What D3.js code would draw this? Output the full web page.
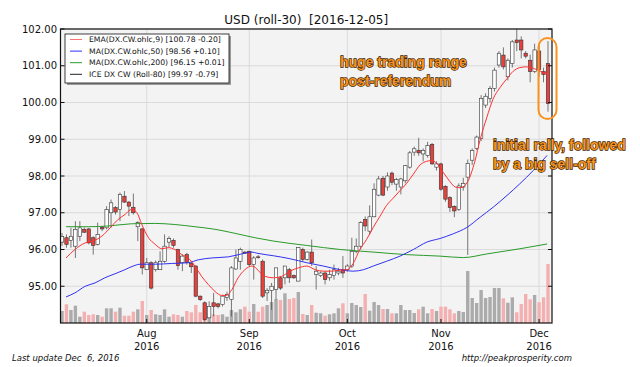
<!DOCTYPE html>
<html><head><meta charset="utf-8">
<script src="https://cdn.jsdelivr.net/npm/d3@7"></script>
<style>body{margin:0;background:#fff}svg{display:block}</style>
</head><body><svg id="c" width="640" height="367"></svg>
<script>
// ---------- DATA ----------
const openP  = [96.20,96.32,96.25,96.09,96.36,96.55,96.56,96.32,96.14,96.61,96.59,97.00,97.14,97.09,97.45,97.29,97.15,96.62,96.56,95.45,
                95.64,95.45,95.45,95.68,96.20,96.25,96.00,95.64,95.86,95.62,95.55,94.73,94.55,94.14,94.55,94.52,94.50,94.70,94.64,95.47,
                95.68,95.93,95.95,95.59,95.80,95.68,94.82,94.89,94.91,95.23,95.23,95.45,95.29,95.14,96.00,95.73,95.93,95.32,95.29,95.36,
                95.23,95.29,95.36,95.45,95.45,95.55,95.95,96.09,96.82,96.50,96.89,97.48,97.94,97.70,98.08,97.78,97.70,97.87,98.24,98.65,
                98.70,98.60,98.56,98.86,98.24,98.33,97.72,97.41,97.17,97.09,97.70,97.97,98.43,98.75,99.02,99.93,100.11,100.38,101.02,101.29,
                100.70,101.06,101.70,101.70,101.34,101.15,100.84,101.40,100.84,101.06];
const highP  = [96.45,96.41,96.59,96.77,96.77,96.60,96.59,96.36,96.73,96.64,97.18,97.36,97.18,97.55,97.59,97.32,97.52,96.77,96.59,95.77,
                95.68,95.70,95.95,96.41,96.36,96.30,96.02,95.86,95.91,95.68,95.57,94.75,94.59,94.59,94.82,94.55,94.77,94.85,95.55,96.00,
                96.05,95.95,95.97,95.82,95.85,95.73,94.95,95.09,95.50,95.27,95.55,95.50,95.32,96.05,96.05,95.95,96.27,95.55,95.40,95.41,
                95.45,95.59,95.50,95.82,95.60,96.32,96.30,96.77,96.90,97.20,97.80,98.00,98.00,98.10,98.12,97.95,97.95,98.30,98.68,98.80,
                99.04,98.75,98.93,98.90,98.40,98.36,97.75,97.45,97.20,97.80,97.95,98.45,98.75,99.10,100.20,100.25,100.45,100.95,101.40,101.50,
                101.20,101.70,102.00,101.80,101.40,101.30,101.60,101.60,100.95,101.67];
const lowP   = [96.10,96.05,96.05,95.77,96.23,96.45,96.14,95.86,96.11,96.50,96.55,96.59,96.95,96.77,97.27,96.91,96.95,96.23,95.32,95.45,
                94.91,95.40,95.45,95.64,96.05,96.05,95.45,95.41,95.59,95.36,94.70,94.60,94.05,94.14,94.18,94.40,94.45,94.60,94.18,95.45,
                95.45,95.88,95.55,95.18,95.75,94.68,94.60,94.36,94.64,94.90,95.05,95.09,95.20,95.14,95.68,95.70,95.55,94.91,95.25,95.05,
                95.15,95.18,95.30,95.23,95.40,95.50,95.90,96.00,96.50,96.40,96.88,97.45,97.45,97.60,97.75,97.60,97.50,97.80,98.20,98.55,
                98.55,98.40,98.50,98.30,98.15,97.60,97.30,97.02,96.88,97.05,97.60,95.85,98.30,98.70,98.95,99.85,100.00,100.30,100.95,100.90,
                100.60,100.95,101.40,101.20,101.20,100.55,100.80,100.70,100.55,99.75];
const closeP = [96.35,96.14,96.36,96.55,96.59,96.47,96.18,96.11,96.41,96.56,97.09,97.27,97.02,97.50,97.29,97.18,97.00,96.73,95.50,95.64,
                94.95,95.64,95.68,96.09,96.30,96.11,95.56,95.82,95.65,95.53,94.73,94.64,94.09,94.45,94.45,94.45,94.73,94.78,95.50,95.77,
                96.00,95.90,95.59,95.77,95.78,94.73,94.89,95.00,95.50,94.95,95.55,95.23,95.23,96.05,95.73,95.93,95.64,95.41,95.36,95.18,
                95.32,95.45,95.41,95.36,95.55,95.95,96.09,96.73,96.64,96.89,97.64,97.92,97.48,98.00,97.83,97.90,97.92,98.28,98.63,98.74,
                98.63,98.70,98.83,98.33,98.33,97.64,97.37,97.14,97.05,97.73,97.80,98.34,98.70,99.06,100.11,100.17,100.38,100.88,101.34,100.97,
                101.15,101.65,101.63,101.43,101.26,100.84,101.43,100.90,100.76,99.97];
const volume = [12,18.7,13,17.3,6.3,11.3,8,8.7,8,6.3,14.7,14.7,11.3,15.3,7.3,7.3,11.3,13.7,22,8,
                13,8.7,8,13.7,6.3,8.7,8,6.3,12,10.7,18,10.7,19.7,9.7,8.7,8,8.7,6.3,13,10.7,
                13.7,16.3,11.3,19,11.3,16.3,18,21,24,23,29.7,24,25,31,9,8,18,10.3,9.7,7.3,
                8.7,9.7,14.7,19.7,9.7,20,18,16,29,12.3,21,18,14,14,9.7,9.7,18,13,13,10,
                13.7,16.3,9.7,14,12,16.3,16.3,13.7,9.7,12,11,52,25,20,33,25,26,35,35,24.7,
                20.3,25.7,10.7,19,29,23.7,28,20.7,25.7,59];

// moving averages, sampled along the trading-day index
const emaIdx = [0.9,2.9,5.2,6.9,8.9,10.8,12.6,14.1,15.6,16.8,17.9,19.4,20.9,22.4,23.8,25.3,26.9,28.3,29.8,31.3,32.8,34.3,35.8,36.9,38.1,39.5,41,42.6,45.5,47.4,49.3,51.1,53,54.9,56.8,58.6,60.5,62.4,63.9,65.3,66.8,68.3,69.8,71.3,72.8,74.3,75.8,77.3,78.8,80.3,81.8,82.9,84,85.5,87,88.2,89.3,91,92.6,93.8,95.3,96.7,98.2,99.8,101.2,102.7,104.2,105.7,106.8,107.9,108.8];
const emaVal = [95.77,96.0,96.18,96.23,96.36,96.59,96.82,96.95,97.09,97.0,96.68,96.32,96.14,96.02,96.05,96.0,95.86,95.77,95.55,95.27,95.05,94.86,94.75,94.75,94.91,95.23,95.45,95.55,95.27,95.23,95.27,95.41,95.5,95.55,95.45,95.41,95.41,95.44,95.45,95.62,96.0,96.27,96.6,96.9,97.2,97.4,97.6,97.8,98.05,98.3,98.4,98.42,98.35,98.1,97.85,97.7,97.68,97.85,98.4,99.0,99.6,100.1,100.4,100.65,100.85,100.95,100.97,100.93,100.88,100.82,100.78];
const ma50Idx = [0.9,2.9,5.2,7.4,9.6,11.9,14.1,16.4,17.5,20.9,24.6,28.3,30.6,33.6,37.3,40.3,42.6,43.7,47.4,51.1,54.9,58.6,62.4,65.3,67.6,69.8,72.8,75.8,78.8,81.8,84.8,87.8,90.8,93.8,96.7,99.8,102.7,105.7,108.8];
const ma50Val = [94.71,94.82,95.0,95.09,95.23,95.34,95.45,95.57,95.6,95.6,95.62,95.64,95.72,95.77,95.8,95.88,95.93,95.9,95.83,95.75,95.64,95.55,95.45,95.41,95.45,95.55,95.68,95.82,96.0,96.2,96.3,96.43,96.6,96.88,97.15,97.47,97.79,98.15,98.56];
const ma200Idx = [0.9,5.9,10.4,15.6,20.9,25.3,29.8,34.3,38.8,43.3,47.4,54.9,62.4,69.8,77.3,84.8,90,95.3,102.7,108.8];
const ma200Val = [96.62,96.62,96.64,96.7,96.71,96.68,96.62,96.55,96.44,96.32,96.23,96.11,96.0,95.93,95.86,95.82,95.78,95.88,96.02,96.15];

const monthIdx    = [19,42,64,85,107];
const monthLabels = ["Aug","Sep","Oct","Nov","Dec"];
const yearLabels  = ["2016","2016","2016","2016","2016"];
const yTicks      = [95,96,97,98,99,100,101,102];
const legendLabels = ["EMA(DX.CW.ohlc,9) [100.78 -0.20]","MA(DX.CW.ohlc,50) [98.56 +0.10]","MA(DX.CW.ohlc,200) [96.15 +0.01]","ICE DX CW (Roll-80) [99.97 -0.79]"];
const legendColors = ["#ff7070","#3030ff","#2a9a2a","#222"];
const titleText = "USD (roll-30)  [2016-12-05]";

// ---------- DRAW ----------
const svg = d3.select("#c");
const L=60.5, R=552, T=29, B=323;
const x = d3.scaleLinear().domain([-0.34,109.9]).range([L,R]);
const y = d3.scaleLinear().domain([94,102]).range([B,T]);
const yv = d3.scaleLinear().domain([0,100]).range([B,B-100]);
const font = "DejaVu Sans, sans-serif";

svg.append("rect").attr("width",640).attr("height",367).attr("fill","#fff");
svg.append("rect").attr("x",L).attr("y",T).attr("width",R-L).attr("height",B-T).attr("fill","#f3f3f3");
svg.append("defs").append("clipPath").attr("id","pc").append("rect").attr("x",L).attr("y",T).attr("width",R-L).attr("height",B-T);

// grid
const grid = svg.append("g").attr("stroke","#d4d4d4").attr("stroke-width",0.8);
grid.selectAll(".gy").data(yTicks).join("line").attr("x1",L).attr("x2",R).attr("y1",d=>y(d)).attr("y2",d=>y(d));
grid.selectAll(".gx").data(monthIdx).join("line").attr("y1",T).attr("y2",B).attr("x1",d=>x(d)).attr("x2",d=>x(d));

const plot = svg.append("g").attr("clip-path","url(#pc)");
const idx = d3.range(openP.length);
const bw = 3.4;

// volume
plot.selectAll(".vol").data(idx).join("rect")
  .attr("x",i=>x(i)-bw/2).attr("width",bw)
  .attr("y",i=>yv(volume[i])).attr("height",i=>B-yv(volume[i]))
  .attr("fill",i=>closeP[i]<openP[i]?"#f4b0b0":"#ababab");

// candles
plot.selectAll(".wick").data(idx).join("line")
  .attr("x1",i=>x(i)).attr("x2",i=>x(i)).attr("y1",i=>y(highP[i])).attr("y2",i=>y(lowP[i]))
  .attr("stroke","#555").attr("stroke-width",0.8);
plot.selectAll(".body").data(idx).join("rect")
  .attr("x",i=>x(i)-bw/2).attr("width",bw)
  .attr("y",i=>y(Math.max(openP[i],closeP[i])))
  .attr("height",i=>Math.max(0.8,Math.abs(y(openP[i])-y(closeP[i]))))
  .attr("fill",i=>closeP[i]<openP[i]?"#e8403a":"#ffffff")
  .attr("stroke","#333").attr("stroke-width",0.6);

// lines
function drawLine(xs,vs,color){
  plot.append("path").datum(d3.zip(xs,vs))
    .attr("d",d3.line().x(d=>x(d[0])).y(d=>y(d[1])).curve(d3.curveMonotoneX))
    .attr("fill","none").attr("stroke",color).attr("stroke-width",1);
}
drawLine(ma200Idx,ma200Val,"#2a9a2a");
drawLine(ma50Idx,ma50Val,"#3030f0");
drawLine(emaIdx,emaVal,"#ff3030");

// frame
svg.append("rect").attr("x",L).attr("y",T).attr("width",R-L).attr("height",B-T)
  .attr("fill","none").attr("stroke","#111").attr("stroke-width",1.2);

// ticks & labels
svg.selectAll(".yt").data(yTicks).join("line").attr("x1",L).attr("x2",L+4).attr("y1",d=>y(d)).attr("y2",d=>y(d)).attr("stroke","#111");
svg.selectAll(".ytr").data(yTicks).join("line").attr("x1",R-4).attr("x2",R).attr("y1",d=>y(d)).attr("y2",d=>y(d)).attr("stroke","#111");
svg.selectAll(".yl").data(yTicks).join("text").attr("x",57).attr("y",d=>y(d)).attr("dy","0.35em")
  .attr("text-anchor","end").attr("font-family",font).attr("font-size",10).attr("fill","#111").text(d=>d.toFixed(2));
svg.selectAll(".xt").data(monthIdx).join("line").attr("x1",d=>x(d)).attr("x2",d=>x(d)).attr("y1",B-4).attr("y2",B).attr("stroke","#111");
svg.selectAll(".xl").data(monthIdx).join("text").attr("x",d=>x(d)).attr("y",337).attr("text-anchor","middle")
  .attr("font-family",font).attr("font-size",10).attr("fill","#111").text((d,i)=>monthLabels[i]);
svg.selectAll(".xl2").data(monthIdx).join("text").attr("x",d=>x(d)).attr("y",350).attr("text-anchor","middle")
  .attr("font-family",font).attr("font-size",10).attr("fill","#111").text((d,i)=>yearLabels[i]);

// title
svg.append("text").attr("x",(L+R)/2).attr("y",24).attr("text-anchor","middle").attr("font-family",font)
  .attr("font-size",12).attr("fill","#111").attr("xml:space","preserve").style("white-space","pre").text(titleText);

// legend
const lg = svg.append("g");
lg.append("rect").attr("x",67).attr("y",36).attr("width",164).attr("height",49).attr("fill","#999");
lg.append("rect").attr("x",65).attr("y",34).attr("width",164).attr("height",49).attr("fill","#fff").attr("stroke","#111").attr("stroke-width",0.8);
legendLabels.forEach((t,i)=>{
  const yy = 39.5 + i*11.6;
  lg.append("line").attr("x1",70).attr("x2",82).attr("y1",yy).attr("y2",yy).attr("stroke",legendColors[i]).attr("stroke-width",1);
  lg.append("text").attr("x",89).attr("y",yy).attr("dy","0.35em").attr("font-family",font).attr("font-size",7.7).attr("fill","#111").text(t);
});

// annotations
const ann = [["huge trading range",340,67],["post-referendum",340,86],["initial rally, followed",493,150],["by a big sell-off",493,169]];
svg.selectAll(".ann").data(ann).join("text").attr("x",d=>d[1]).attr("y",d=>d[2])
  .attr("font-family","Liberation Sans, Arial, sans-serif").attr("font-weight","bold").attr("font-size",14)
  .attr("fill","#f7931e").attr("stroke","#3a2200").attr("stroke-width",1.3).attr("paint-order","stroke")
  .text(d=>d[0]);
svg.append("rect").attr("x",538.5).attr("y",38).attr("width",18).attr("height",81).attr("rx",9)
  .attr("fill","none").attr("stroke","#f7931e").attr("stroke-width",2);

// footer
svg.append("text").attr("x",12).attr("y",361).attr("font-family",font).attr("font-style","italic").attr("font-size",8.5)
  .attr("fill","#111").style("white-space","pre").text("Last update Dec  6, 2016");
svg.append("text").attr("x",572).attr("y",361).attr("text-anchor","end").attr("font-family",font).attr("font-style","italic").attr("font-size",8.5)
  .attr("fill","#111").text("http://peakprosperity.com");
</script></body></html>
